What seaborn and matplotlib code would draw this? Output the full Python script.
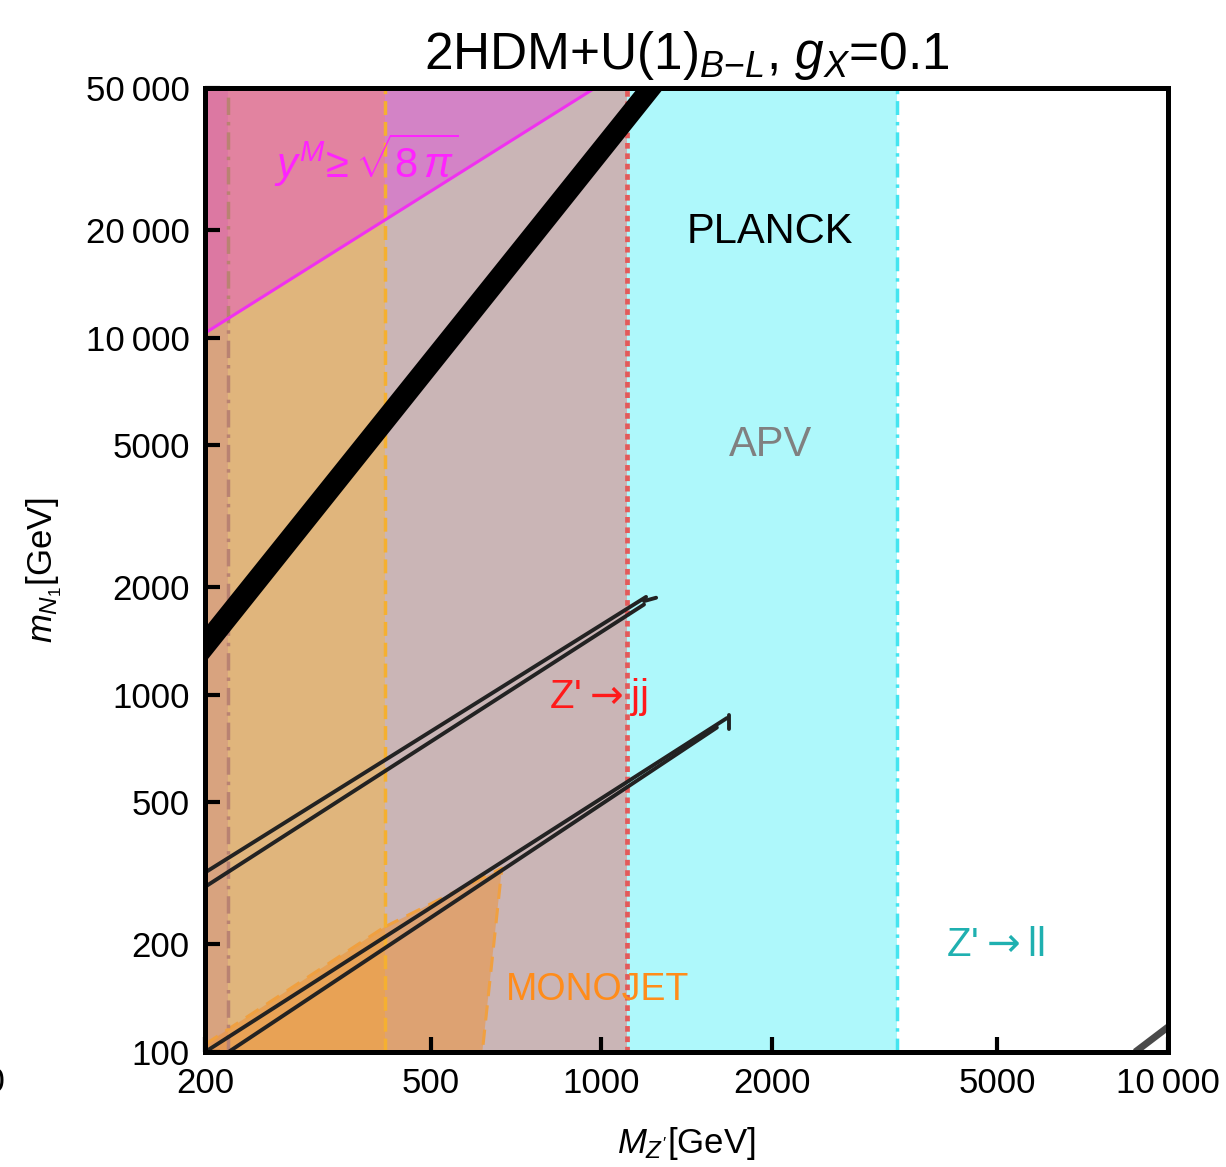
import matplotlib
matplotlib.use("Agg")
import matplotlib.pyplot as plt
import seaborn as sns
import pandas as pd

# ---------------- data ----------------
x_range = [200, 10000]
y_range = [100, 50000]
x_ticks = [200, 500, 1000, 2000, 5000, 10000]
x_ticklabels = ["200", "500", "1000", "2000", "5000", "10\u2009000"]
y_ticks = [100, 200, 500, 1000, 2000, 5000, 10000, 20000, 50000]
y_ticklabels = ["100", "200", "500", "1000", "2000", "5000",
                "10\u2009000", "20\u2009000", "50\u2009000"]

# vertical exclusion edges (M_Z' in GeV)
edge_brown = 220
edge_orange = 415
edge_jj = 1110
edge_ll = 3330

# monojet low-mass island (polygon)
mono_M = [200, 415, 668, 617, 200]
mono_m = [105, 224, 327, 100, 100]

# perturbativity line y^M >= sqrt(8 pi)
pert_M = [200, 975]
pert_m = [10300, 50000]

# relic (PLANCK) thick band: upper and lower edges
relic_up_M = [200, 1160]
relic_up_m = [1540, 50000]
relic_lo_M = [200, 1290]
relic_lo_m = [1230, 50000]

# thin contour lines
line_a1_M = [200, 1200]; line_a1_m = [318, 1880]
line_a2_M = [200, 1190]; line_a2_m = [290, 1790]
hook_a_M = [1190, 1250]; hook_a_m = [1830, 1870]
line_b1_M = [200, 1667]; line_b1_m = [100, 861]
line_b2_M = [220, 1600]; line_b2_m = [100, 810]
hook_b_M = [1680, 1680]; hook_b_m = [800, 880]
corner_M = [8750, 10600]; corner_m = [100, 126]

# ---------------- style ----------------
sns.set_theme(style="white")
plt.rcParams["font.family"] = ["Liberation Sans", "DejaVu Sans"]
plt.rcParams["mathtext.fontset"] = "custom"
plt.rcParams["mathtext.rm"] = "Liberation Sans"
plt.rcParams["mathtext.it"] = "Liberation Sans:italic"
plt.rcParams["mathtext.sf"] = "Liberation Sans"
plt.rcParams["text.color"] = "black"
plt.rcParams["axes.labelcolor"] = "black"
plt.rcParams["xtick.color"] = "black"
plt.rcParams["ytick.color"] = "black"

fig = plt.figure(figsize=(12.26, 11.67), dpi=100)
ax = fig.add_axes([205/1226, 1-1052/1167, (1168-205)/1226, (1052-88)/1167])
ax.set_xscale("log")
ax.set_yscale("log")
ax.set_xlim(x_range)
ax.set_ylim(y_range)

# base fills
ax.axvspan(x_range[0], edge_ll, color="#aef8fb", lw=0, zorder=1)
ax.axvspan(x_range[0], edge_jj, color="#cab5b6", lw=0, zorder=1.1)
ax.axvspan(x_range[0], edge_orange, color="#e0b57c", lw=0, zorder=1.2)
ax.axvspan(x_range[0], edge_brown, color="#d8a37f", lw=0, zorder=1.3)
# monojet island
ax.fill(mono_M, mono_m, color="#f09030", alpha=0.5, lw=0, zorder=1.5)
ax.plot(mono_M[1:4], mono_m[1:4], color="#f0a040", lw=2.2, ls=(0, (5, 3)), zorder=1.6)
ax.plot(mono_M[0:2], mono_m[0:2], color="#f0a040", lw=2.2, ls=(0, (5, 3)), zorder=1.6)
# perturbativity region
ax.fill_between(pert_M, pert_m, y_range[1], color="#e628e6", alpha=0.35, lw=0, zorder=1.7)

# boundary lines
ax.axvline(edge_brown, color="#b98272", lw=2.5, ls=(0, (5, 2, 1, 2)), zorder=2)
ax.axvline(edge_orange, color="#f5b030", lw=2.5, ls=(0, (4, 2)), zorder=2)
ax.axvline(edge_jj, color="#e35a5a", lw=3.4, ls=(0, (1.2, 1.0)), zorder=2)
ax.axvline(edge_ll, color="#45e5f0", lw=2.5, ls=(0, (4, 2, 1, 2)), zorder=2)

# relic band
ax.fill(relic_up_M + relic_lo_M[::-1], relic_up_m + relic_lo_m[::-1],
        color="black", lw=0, zorder=3)

# thin lines via seaborn
rows = []
for lid, (Ms, ms) in enumerate([(line_a1_M, line_a1_m), (line_a2_M, line_a2_m),
                                 (hook_a_M, hook_a_m), (line_b1_M, line_b1_m),
                                 (line_b2_M, line_b2_m), (hook_b_M, hook_b_m)]):
    for M, m in zip(Ms, ms):
        rows.append({"M": M, "m": m, "id": lid})
df = pd.DataFrame(rows)
sns.lineplot(data=df, x="M", y="m", units="id", estimator=None, sort=False,
             color="#222222", lw=2.8, ax=ax, legend=False, zorder=3)
ax.plot(corner_M, corner_m, color="#4a4a4a", lw=5, zorder=3, solid_capstyle="butt")

# perturbativity line
ax.plot(pert_M, pert_m, color="#f030f0", lw=2.2, zorder=3.5)

# labels
ax.text(385, 31400, r"$y^M\!\geq\sqrt{8\,\pi}$", color="#ff22ff", fontsize=30,
        ha="center", va="center", zorder=4)
ax.text(1986, 19770, "PLANCK", color="black", fontsize=30, ha="center", va="center", zorder=4)
ax.text(1986, 5010, "APV", color="#808080", fontsize=30, ha="center", va="center", zorder=4)
ax.text(987, 987, r"Z'${\rightarrow}$jj", color="#ff1a1a", fontsize=29, ha="center",
        va="center", zorder=4, math_fontfamily="dejavusans")
ax.text(987, 149, "MONOJET", color="#ff8c1a", fontsize=27, ha="center", va="center", zorder=4)
ax.text(4955, 199.5, r"Z'${\rightarrow}$ll", color="#1fb0b0", fontsize=29, ha="center",
        va="center", zorder=4, math_fontfamily="dejavusans")

# axes styling
ax.set_xticks(x_ticks)
ax.set_xticklabels(x_ticklabels)
ax.set_yticks(y_ticks)
ax.set_yticklabels(y_ticklabels)
ax.minorticks_off()
ax.tick_params(axis="both", which="major", direction="in", length=11, width=3,
               color="black", labelcolor="black", labelsize=25, pad=11,
               top=False, right=False, bottom=True, left=True)
ax.xaxis.set_zorder(6)
ax.yaxis.set_zorder(6)
for s in ax.spines.values():
    s.set_visible(True)
    s.set_linewidth(3.6)
    s.set_color("black")
    s.set_zorder(7)
ax.grid(False)

ax.set_xlabel(r"$M_{Z'}$[GeV]", fontsize=25, labelpad=18)
ax.set_ylabel(r"$m_{N_1}$[GeV]", fontsize=25, labelpad=16)
ax.set_title("2HDM+U(1)$_{B{-}L}$, $g_X$=0.1", fontsize=37, pad=14)

fig.text(0.004, 1 - 1083/1167, "10\u2009000", fontsize=25, ha="right", va="center")

fig.savefig("out.png", dpi=100)
